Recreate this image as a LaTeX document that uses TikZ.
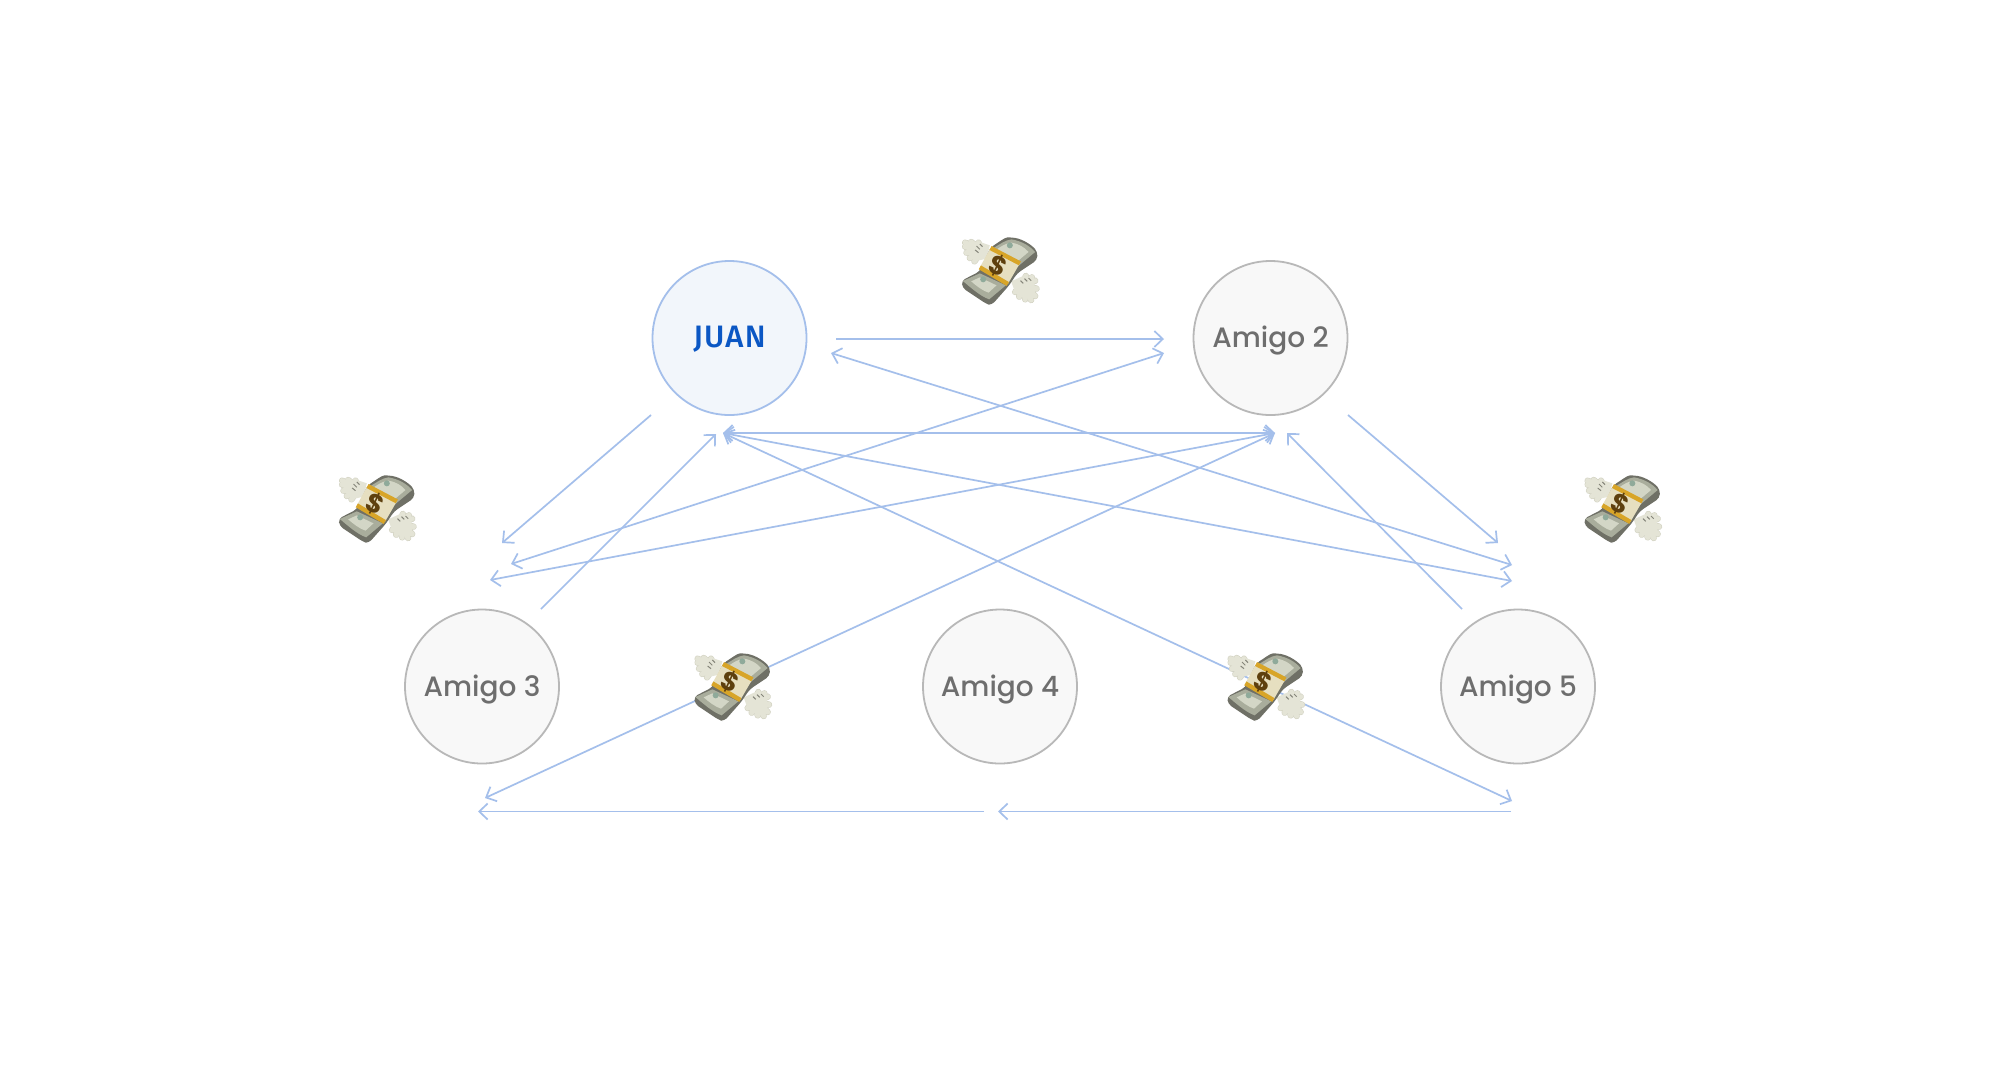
\documentclass[tikz,border=0pt]{standalone}
\usepackage{fontspec}
\usetikzlibrary{arrows.meta}
\newfontfamily\popf{Poppins Medium}
\newfontfamily\popb{Poppins Bold}
\newfontfamily\juanf[LetterSpace=4]{Fira Sans Medium}
\definecolor{lnk}{HTML}{A4BFEB}
\definecolor{juanfill}{HTML}{F2F6FB}
\definecolor{juantxt}{HTML}{0B57C4}
\definecolor{amifill}{HTML}{F8F8F8}
\definecolor{amidraw}{HTML}{B8B8B8}
\definecolor{amitxt}{HTML}{6E6E6E}
\definecolor{pile}{HTML}{6F7066}
\definecolor{bill}{HTML}{A9AD9C}
\definecolor{billin}{HTML}{D3D6C6}
\definecolor{bgreen}{HTML}{8FAA9A}
\definecolor{band}{HTML}{E6DFC0}
\definecolor{gold}{HTML}{D8A528}
\definecolor{dol}{HTML}{5E400E}
\definecolor{fea}{HTML}{E4E4D6}
\definecolor{feaedge}{HTML}{D2D2C2}
\definecolor{featick}{HTML}{85857A}
\tikzset{
  person/.style={circle,minimum size=77pt,inner sep=0pt,line width=0.9pt},
  juanstyle/.style={person,draw=lnk,fill=juanfill,text=juantxt,text height=9.8pt,text depth=0pt,font=\juanf\fontsize{15.5}{16}\selectfont},
  amigo/.style={person,draw=amidraw,fill=amifill,text=amitxt,text height=9.6pt,text depth=0pt,font=\popf\fontsize{14}{16}\selectfont},
  link/.style={draw=lnk,line width=0.85pt,-{Straight Barb[length=4.2pt,width=8pt,line width=0.85pt]}},
  dlink/.style={draw=lnk,line width=0.85pt,{Straight Barb[length=4.2pt,width=8pt,line width=0.85pt]}-{Straight Barb[length=4.2pt,width=8pt,line width=0.85pt]}},
  money/.pic={
    \begin{scope}[x=0.16667pt,y=-0.16667pt,shift={(-212,-180)}]
      % left wing
      \foreach \tx/\ty in {134/154,120/144,110/128,106/110,106/98,124/96,146/98}{
        \draw[line cap=round,line width=3.2pt,draw=feaedge](155,122)--(\tx,\ty);
      }
      \foreach \tx/\ty in {134/154,120/144,110/128,106/110,106/98,124/96,146/98}{
        \draw[line cap=round,line width=2.6pt,draw=fea](155,122)--(\tx,\ty);
      }
      \fill[fea](180,106)--(150,96)--(110,100)--(112,126)--(134,154)--(170,146)--cycle;
      \draw[featick,line width=0.5pt](150,102)--(158,110) (140,108)--(150,118) (136,120)--(146,128);
      % right wing
      \foreach \tx/\ty in {256/246,268/260,286/268,304/270,316/258,320/236,316/212,306/202,288/198}{
        \draw[line cap=round,line width=3.2pt,draw=feaedge](280,226)--(\tx,\ty);
      }
      \foreach \tx/\ty in {256/246,268/260,286/268,304/270,316/258,320/236,316/212,306/202,288/198}{
        \draw[line cap=round,line width=2.6pt,draw=fea](280,226)--(\tx,\ty);
      }
      \fill[fea](244,214)--(284,196)--(312,208)--(316,258)--(304,268)--(268,260)--(254,242)--cycle;
      \draw[featick,line width=0.5pt](284,206)--(292,214) (296,204)--(304,212) (272,212)--(280,220);
      % pile of bills
      \fill[pile,rounded corners=2pt](182,112)..controls(205,98)and(225,82)..(245,82)
        ..controls(280,88)and(305,105)..(323,125)--(322,150)--(262,190)--(238,226)
        --(185,286)--(170,282)--(98,234)--(95,212)--(150,184)--cycle;
      % top bill, upper part
      \fill[bill](188,116)..controls(208,104)and(226,90)..(245,88)
        ..controls(278,94)and(300,108)..(316,126)--(256,176)--cycle;
      % top bill, lower part
      \fill[bill](99,213)--(150,190)--(228,226)--(178,268)..controls(150,258)and(122,232)..(99,213)--cycle;
      \fill[billin](201,118)..controls(215,108)and(228,100)..(245,98)
        ..controls(268,102)and(284,112)..(296,126)--(258,158)--cycle;
      \fill[billin](124,214)--(150,202)--(200,226)--(176,248)..controls(158,242)and(140,228)..(124,214)--cycle;
      \fill[bgreen](240,106)circle[radius=9];
      \fill[bgreen](160,208)circle[radius=9];
      % paper band
      \fill[band](182,114)--(270,160)--(234,222)--(150,172)--cycle;
      \draw[gold,line width=2.2pt](182,114)--(270,160);
      \draw[gold,line width=2.2pt](150,172)--(234,222);
      \node[text=dol,rotate=-25,inner sep=0pt,font=\popb\fontsize{13}{14}\selectfont](-d)at(204,168){\$};
    \end{scope}
  }
}
\begin{document}
\begin{tikzpicture}[x=0.5pt,y=-0.5pt]
\useasboundingbox (0,0) rectangle (2000,1072);
\fill[white] (0,0) rectangle (2000,1072);
\node[juanstyle] (juan) at (729.5,338) {JUAN};
\node[amigo] (a2) at (1270.5,338) {Amigo 2};
\node[amigo] (a3) at (482,686.5) {Amigo 3};
\node[amigo] (a4) at (1000,686.5) {Amigo 4};
\node[amigo] (a5) at (1518,686.5) {Amigo 5};
% free ends of the connectors
\coordinate (jo) at (836,339);
\coordinate (a2i) at (1164,339);
\coordinate (jr) at (831,353);
\coordinate (a2l) at (1164,353);
\coordinate (jb) at (723,433);
\coordinate (a2b) at (1275,433);
\coordinate (r1) at (1512,565);
\coordinate (r2) at (1512,581);
\coordinate (r3) at (1512,801);
\coordinate (l1) at (511,564);
\coordinate (l2) at (490,580);
\coordinate (l3) at (485,798);
\coordinate (jo2) at (651,415);
\coordinate (a3i) at (502,543);
\coordinate (a3o) at (541,609);
\coordinate (ji) at (716,434);
\coordinate (a2o) at (1348,415);
\coordinate (a5i) at (1498,543);
\coordinate (a5o) at (1462,609);
\coordinate (a2j) at (1287,433);
\coordinate (bra) at (1511,811.5);
\coordinate (brb) at (998,811.5);
\coordinate (bla) at (984,811.5);
\coordinate (blb) at (478,811.5);
\path[link] (jo) -- (a2i);
\path[dlink] (jr) -- (r1);
\path[dlink] (jb) -- (a2b);
\path[dlink] (jb) -- (r2);
\path[dlink] (jb) -- (r3);
\path[dlink] (a2b) -- (l2);
\path[dlink] (a2b) -- (l3);
\path[dlink] (a2l) -- (l1);
\path[link] (jo2) -- (a3i);
\path[link] (a3o) -- (ji);
\path[link] (a2o) -- (a5i);
\path[link] (a5o) -- (a2j);
\path[link] (bra) -- (brb);
\path[link] (bla) -- (blb);
\pic (m1) at (1000.5,270) {money};
\pic (m2) at (377.5,508) {money};
\pic (m3) at (1623,508) {money};
\pic (m4) at (733,686) {money};
\pic (m5) at (1266,686) {money};
\end{tikzpicture}
\end{document}
